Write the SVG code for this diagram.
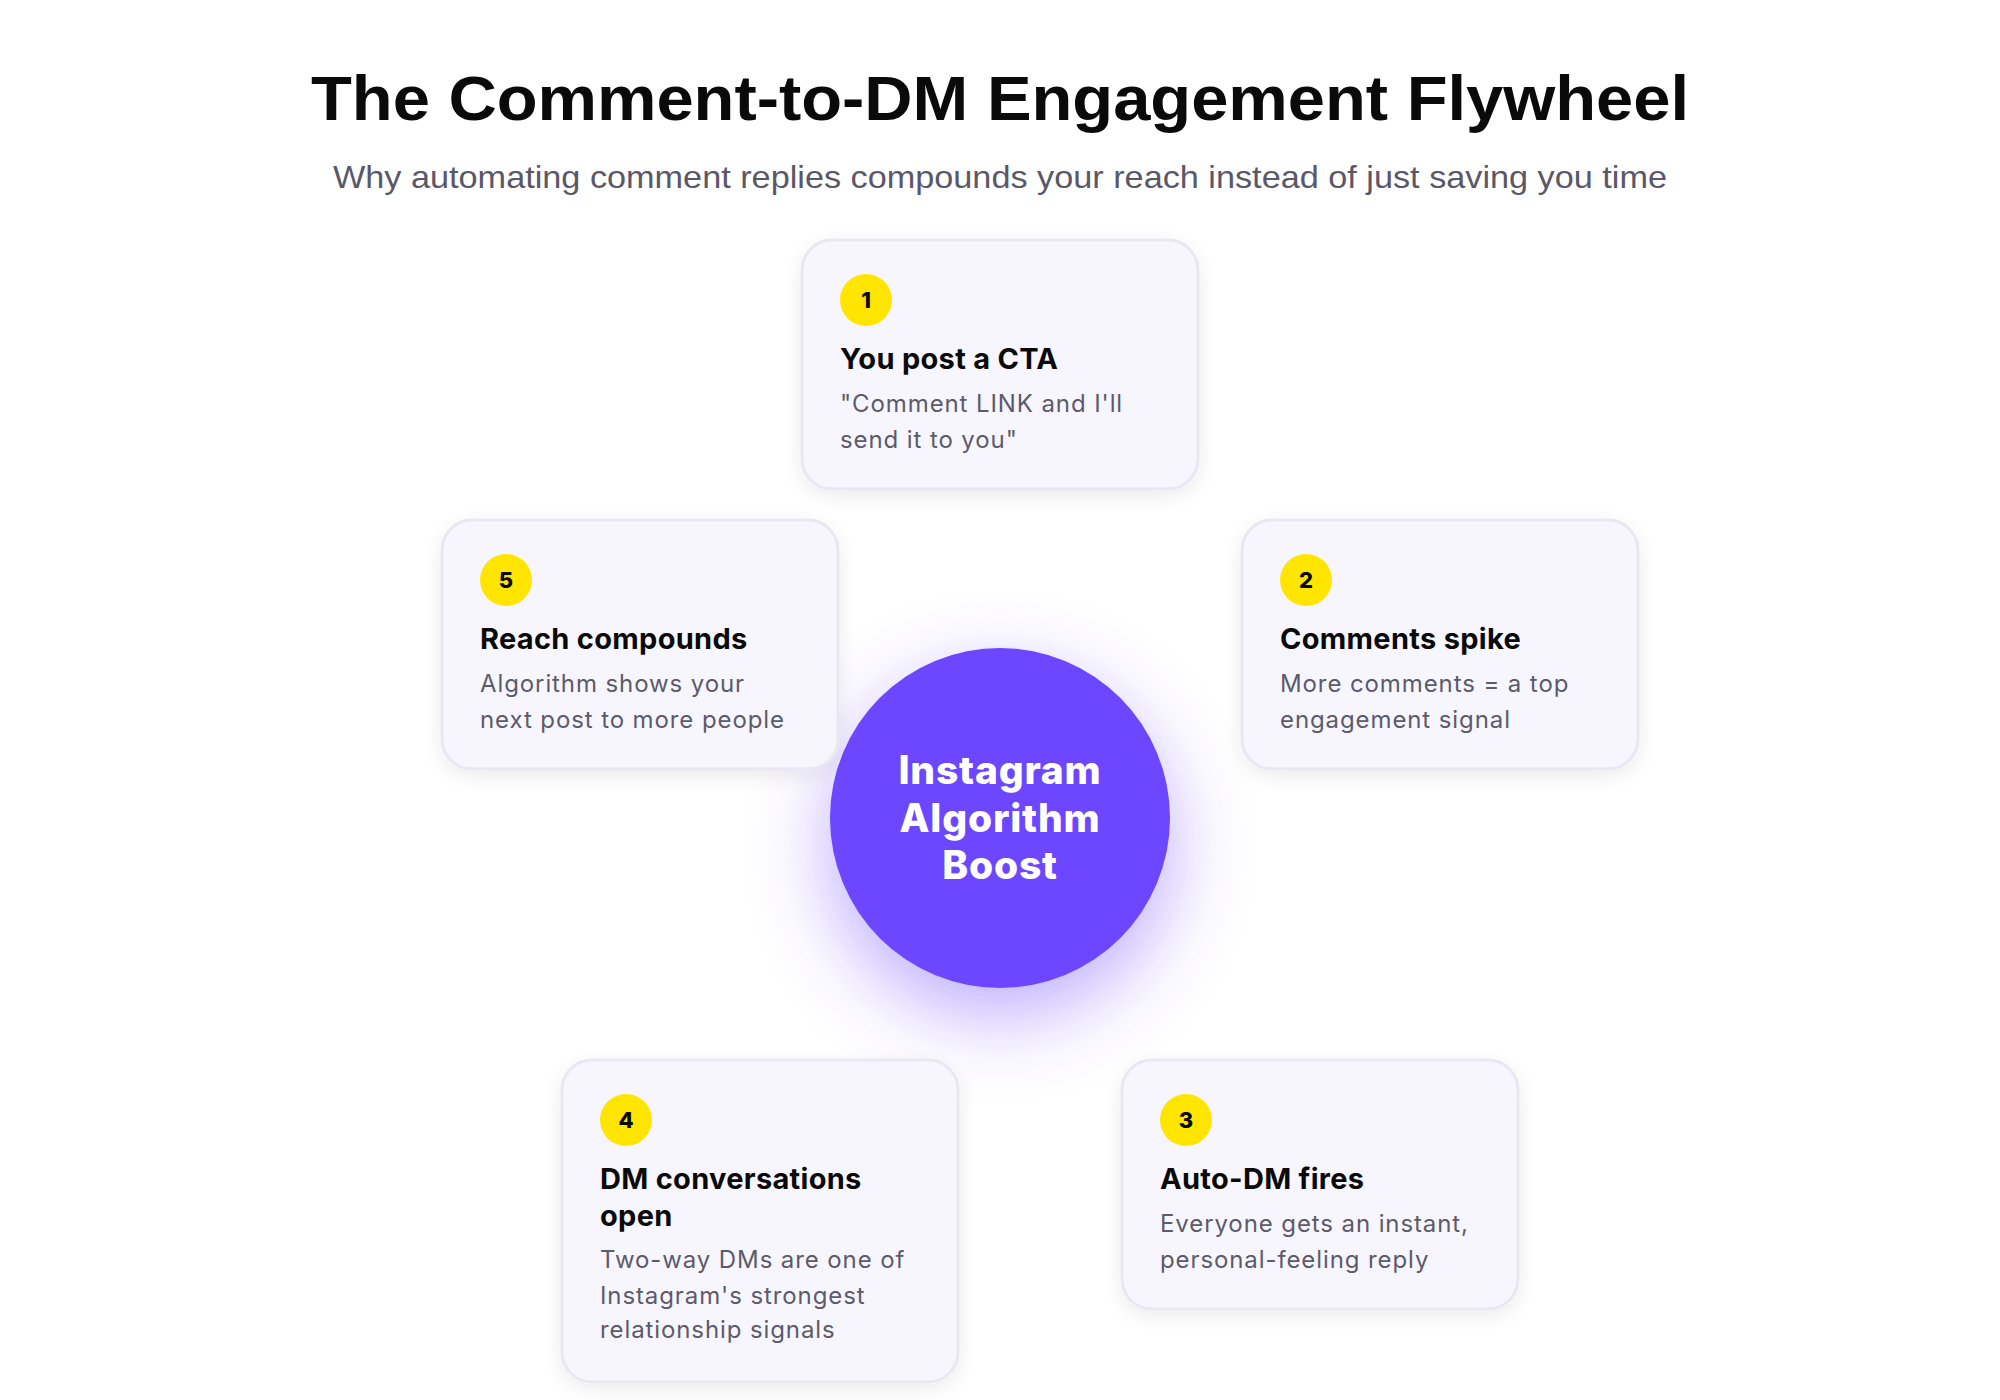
<svg xmlns="http://www.w3.org/2000/svg" width="2000" height="1400" viewBox="0 0 2000 1400">
  <defs>
    <filter id="cardShadow" x="-20%" y="-20%" width="140%" height="150%">
      <feGaussianBlur in="SourceAlpha" stdDeviation="10"/>
      <feOffset dy="6" result="b"/>
      <feComponentTransfer><feFuncA type="linear" slope="0.08"/></feComponentTransfer>
      <feMerge><feMergeNode/><feMergeNode in="SourceGraphic"/></feMerge>
    </filter>
    <filter id="glow" x="-70%" y="-70%" width="240%" height="250%">
      <feGaussianBlur in="SourceAlpha" stdDeviation="40"/>
      <feOffset dy="28" result="b"/>
      <feFlood flood-color="#6C47FF" flood-opacity="0.45"/>
      <feComposite in2="b" operator="in"/>
      <feMerge><feMergeNode/><feMergeNode in="SourceGraphic"/></feMerge>
    </filter>
  </defs>
  <style>
    .card { fill: #F7F6FE; stroke: #E9E7F2; stroke-width: 3; }
    .badge { fill: #FFE500; }
    .num { font-family: Inter, "Liberation Sans", sans-serif; font-weight: 800; font-size: 22px; fill: #0A0A0A; text-anchor: middle; }
    .ttl { font-family: Inter, "Liberation Sans", sans-serif; font-weight: 700; font-size: 29px; fill: #0A0A0A; letter-spacing: 0.3px; }
    .body { font-family: Inter, "Liberation Sans", sans-serif; font-size: 24px; fill: #5C5A6B; letter-spacing: 0.9px; }
    .hub { font-family: Inter, "Liberation Sans", sans-serif; font-weight: 800; font-size: 39px; fill: #FFFFFF; text-anchor: middle; letter-spacing: 0.8px; }
  </style>
  <rect width="2000" height="1400" fill="#FFFFFF"/>
  <text x="1000" y="120" text-anchor="middle" font-family="'Liberation Sans', Arial, sans-serif" font-weight="700" font-size="63" fill="#0A0A0A" textLength="1378" lengthAdjust="spacingAndGlyphs">The Comment-to-DM Engagement Flywheel</text>
  <text x="1000" y="188" text-anchor="middle" font-family="'Liberation Sans', Arial, sans-serif" font-size="32" fill="#5A5868" textLength="1334" lengthAdjust="spacingAndGlyphs">Why automating comment replies compounds your reach instead of just saving you time</text>

  <g id="connectors"></g>

  <g id="hub">
    <circle cx="1000" cy="818" r="170" fill="#6C47FF" filter="url(#glow)"/>
    <text class="hub" x="1000" y="784">Instagram</text>
    <text class="hub" x="1000" y="832">Algorithm</text>
    <text class="hub" x="1000" y="879">Boost</text>
  </g>

  <g id="step1">
    <rect class="card" x="802" y="240" width="396" height="249" rx="30" filter="url(#cardShadow)"/>
    <circle class="badge" cx="866" cy="300" r="26"/>
    <text class="num" x="866" y="308">1</text>
    <text class="ttl" x="840" y="369">You post a CTA</text>
    <text class="body" x="840" y="412">"Comment LINK and I'll</text>
    <text class="body" x="840" y="448">send it to you"</text>
  </g>

  <g id="step2">
    <rect class="card" x="1242" y="520" width="396" height="249" rx="30" filter="url(#cardShadow)"/>
    <circle class="badge" cx="1306" cy="580" r="26"/>
    <text class="num" x="1306" y="588">2</text>
    <text class="ttl" x="1280" y="649">Comments spike</text>
    <text class="body" x="1280" y="692">More comments = a top</text>
    <text class="body" x="1280" y="728">engagement signal</text>
  </g>

  <g id="step3">
    <rect class="card" x="1122" y="1060" width="396" height="249" rx="30" filter="url(#cardShadow)"/>
    <circle class="badge" cx="1186" cy="1120" r="26"/>
    <text class="num" x="1186" y="1128">3</text>
    <text class="ttl" x="1160" y="1189">Auto-DM fires</text>
    <text class="body" x="1160" y="1232">Everyone gets an instant,</text>
    <text class="body" x="1160" y="1268">personal-feeling reply</text>
  </g>

  <g id="step4">
    <rect class="card" x="562" y="1060" width="396" height="322" rx="30" filter="url(#cardShadow)"/>
    <circle class="badge" cx="626" cy="1120" r="26"/>
    <text class="num" x="626" y="1128">4</text>
    <text class="ttl" x="600" y="1189">DM conversations</text>
    <text class="ttl" x="600" y="1226">open</text>
    <text class="body" x="600" y="1268">Two-way DMs are one of</text>
    <text class="body" x="600" y="1304">Instagram's strongest</text>
    <text class="body" x="600" y="1338">relationship signals</text>
  </g>

  <g id="step5">
    <rect class="card" x="442" y="520" width="396" height="249" rx="30" filter="url(#cardShadow)"/>
    <circle class="badge" cx="506" cy="580" r="26"/>
    <text class="num" x="506" y="588">5</text>
    <text class="ttl" x="480" y="649">Reach compounds</text>
    <text class="body" x="480" y="692">Algorithm shows your</text>
    <text class="body" x="480" y="728">next post to more people</text>
  </g>
</svg>
